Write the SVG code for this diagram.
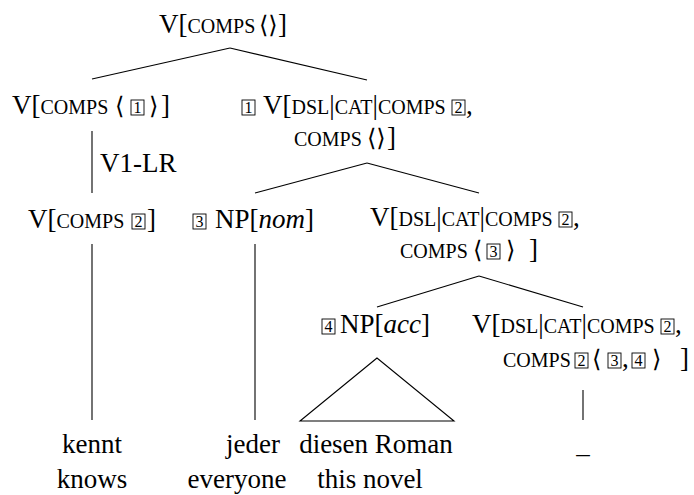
<svg xmlns="http://www.w3.org/2000/svg" width="694" height="495" viewBox="0 0 694 495">
<style>
text{font-family:"Liberation Serif","DejaVu Serif",serif;font-size:27px;fill:#000}
.sc{font-size:20px}
.it{font-style:italic}
.m{text-anchor:middle}
.ab{font-family:"DejaVu Serif","Liberation Serif",serif;font-size:24px}
.bx{fill:none;stroke:#000;stroke-width:0.9}
.d{font-size:16px;text-anchor:middle}
#edges line,#edges polygon{stroke:#000;stroke-width:1.1;fill:none}
</style>
<rect width="694" height="495" fill="#fff"/>
<g id="edges">
<line x1="230" y1="48" x2="92" y2="79"/>
<line x1="230" y1="48" x2="367" y2="80"/>
<line x1="92" y1="131" x2="92" y2="193"/>
<line x1="367" y1="163" x2="255" y2="193"/>
<line x1="367" y1="163" x2="479" y2="193"/>
<line x1="92" y1="244" x2="92" y2="420"/>
<line x1="255" y1="244" x2="255" y2="420"/>
<line x1="479" y1="276" x2="377" y2="307"/>
<line x1="479" y1="276" x2="583" y2="307"/>
<polygon points="377,358 300,421 454,421"/>
<line x1="583" y1="390" x2="583" y2="420"/>
</g>
<g id="root">
<text x="159" y="33">V[<tspan class="sc">COMPS</tspan></text>
<text x="259" y="33" class="ab">⟨⟩</text>
<text x="278" y="33">]</text>
</g>
<g id="v-comps-1">
<text x="12" y="114">V[<tspan class="sc">COMPS</tspan></text>
<text x="115" y="114" class="ab">⟨</text>
<rect class="bx" x="131" y="100" width="13" height="15"/><text class="d" x="137.5" y="113">1</text>
<text x="149" y="114" class="ab">⟩</text>
<text x="161" y="114">]</text>
</g>
<g id="lr-label">
<text x="100" y="172">V1-LR</text>
</g>
<g id="v-dsl-1">
<rect class="bx" x="242" y="100" width="13" height="15"/><text class="d" x="248.5" y="113">1</text>
<text x="263" y="114">V[<tspan class="sc">DSL</tspan>|<tspan class="sc">CAT</tspan>|<tspan class="sc">COMPS</tspan></text>
<rect class="bx" x="452" y="100" width="13" height="15"/><text class="d" x="458.5" y="113">2</text>
<text x="466" y="114">,</text>
<text x="294" y="146" class="sc">COMPS</text>
<text x="367" y="146" class="ab">⟨⟩</text>
<text x="387" y="146">]</text>
</g>
<g id="v-comps-2">
<text x="28" y="228">V[<tspan class="sc">COMPS</tspan></text>
<rect class="bx" x="132" y="214" width="13" height="15"/><text class="d" x="138.5" y="227">2</text>
<text x="147" y="228">]</text>
</g>
<g id="np-nom">
<rect class="bx" x="193" y="214" width="13" height="15"/><text class="d" x="199.5" y="227">3</text>
<text x="215" y="228">NP[<tspan class="it">nom</tspan>]</text>
</g>
<g id="v-dsl-3">
<text x="370" y="226">V[<tspan class="sc">DSL</tspan>|<tspan class="sc">CAT</tspan>|<tspan class="sc">COMPS</tspan></text>
<rect class="bx" x="559" y="212" width="13" height="15"/><text class="d" x="565.5" y="225">2</text>
<text x="573" y="226">,</text>
<text x="400" y="258" class="sc">COMPS</text>
<text x="473" y="258" class="ab">⟨</text>
<rect class="bx" x="487" y="244" width="13" height="15"/><text class="d" x="493.5" y="257">3</text>
<text x="506" y="258" class="ab">⟩</text>
<text x="529" y="258">]</text>
</g>
<g id="np-acc">
<rect class="bx" x="322" y="319" width="13" height="15"/><text class="d" x="328.5" y="332">4</text>
<text x="340" y="333">NP[<tspan class="it">acc</tspan>]</text>
</g>
<g id="v-dsl-trace">
<text x="472" y="333">V[<tspan class="sc">DSL</tspan>|<tspan class="sc">CAT</tspan>|<tspan class="sc">COMPS</tspan></text>
<rect class="bx" x="661" y="319" width="13" height="15"/><text class="d" x="667.5" y="332">2</text>
<text x="675" y="333">,</text>
<text x="503" y="367" class="sc">COMPS</text>
<rect class="bx" x="575" y="353" width="13" height="15"/><text class="d" x="581.5" y="366">2</text>
<text x="592" y="367" class="ab">⟨</text>
<rect class="bx" x="608" y="353" width="13" height="15"/><text class="d" x="614.5" y="366">3</text>
<text x="622" y="367">,</text>
<rect class="bx" x="632" y="353" width="13" height="15"/><text class="d" x="638.5" y="366">4</text>
<text x="652" y="367" class="ab">⟩</text>
<text x="680" y="367">]</text>
</g>
<g id="words">
<text x="92" y="453" class="m">kennt</text>
<text x="92" y="488" class="m">knows</text>
<text x="253" y="453" class="m">jeder</text>
<text x="237" y="488" class="m">everyone</text>
<text x="376" y="453" class="m">diesen Roman</text>
<text x="370" y="488" class="m">this novel</text>
<text x="583" y="453" class="m">_</text>
</g>
</svg>
